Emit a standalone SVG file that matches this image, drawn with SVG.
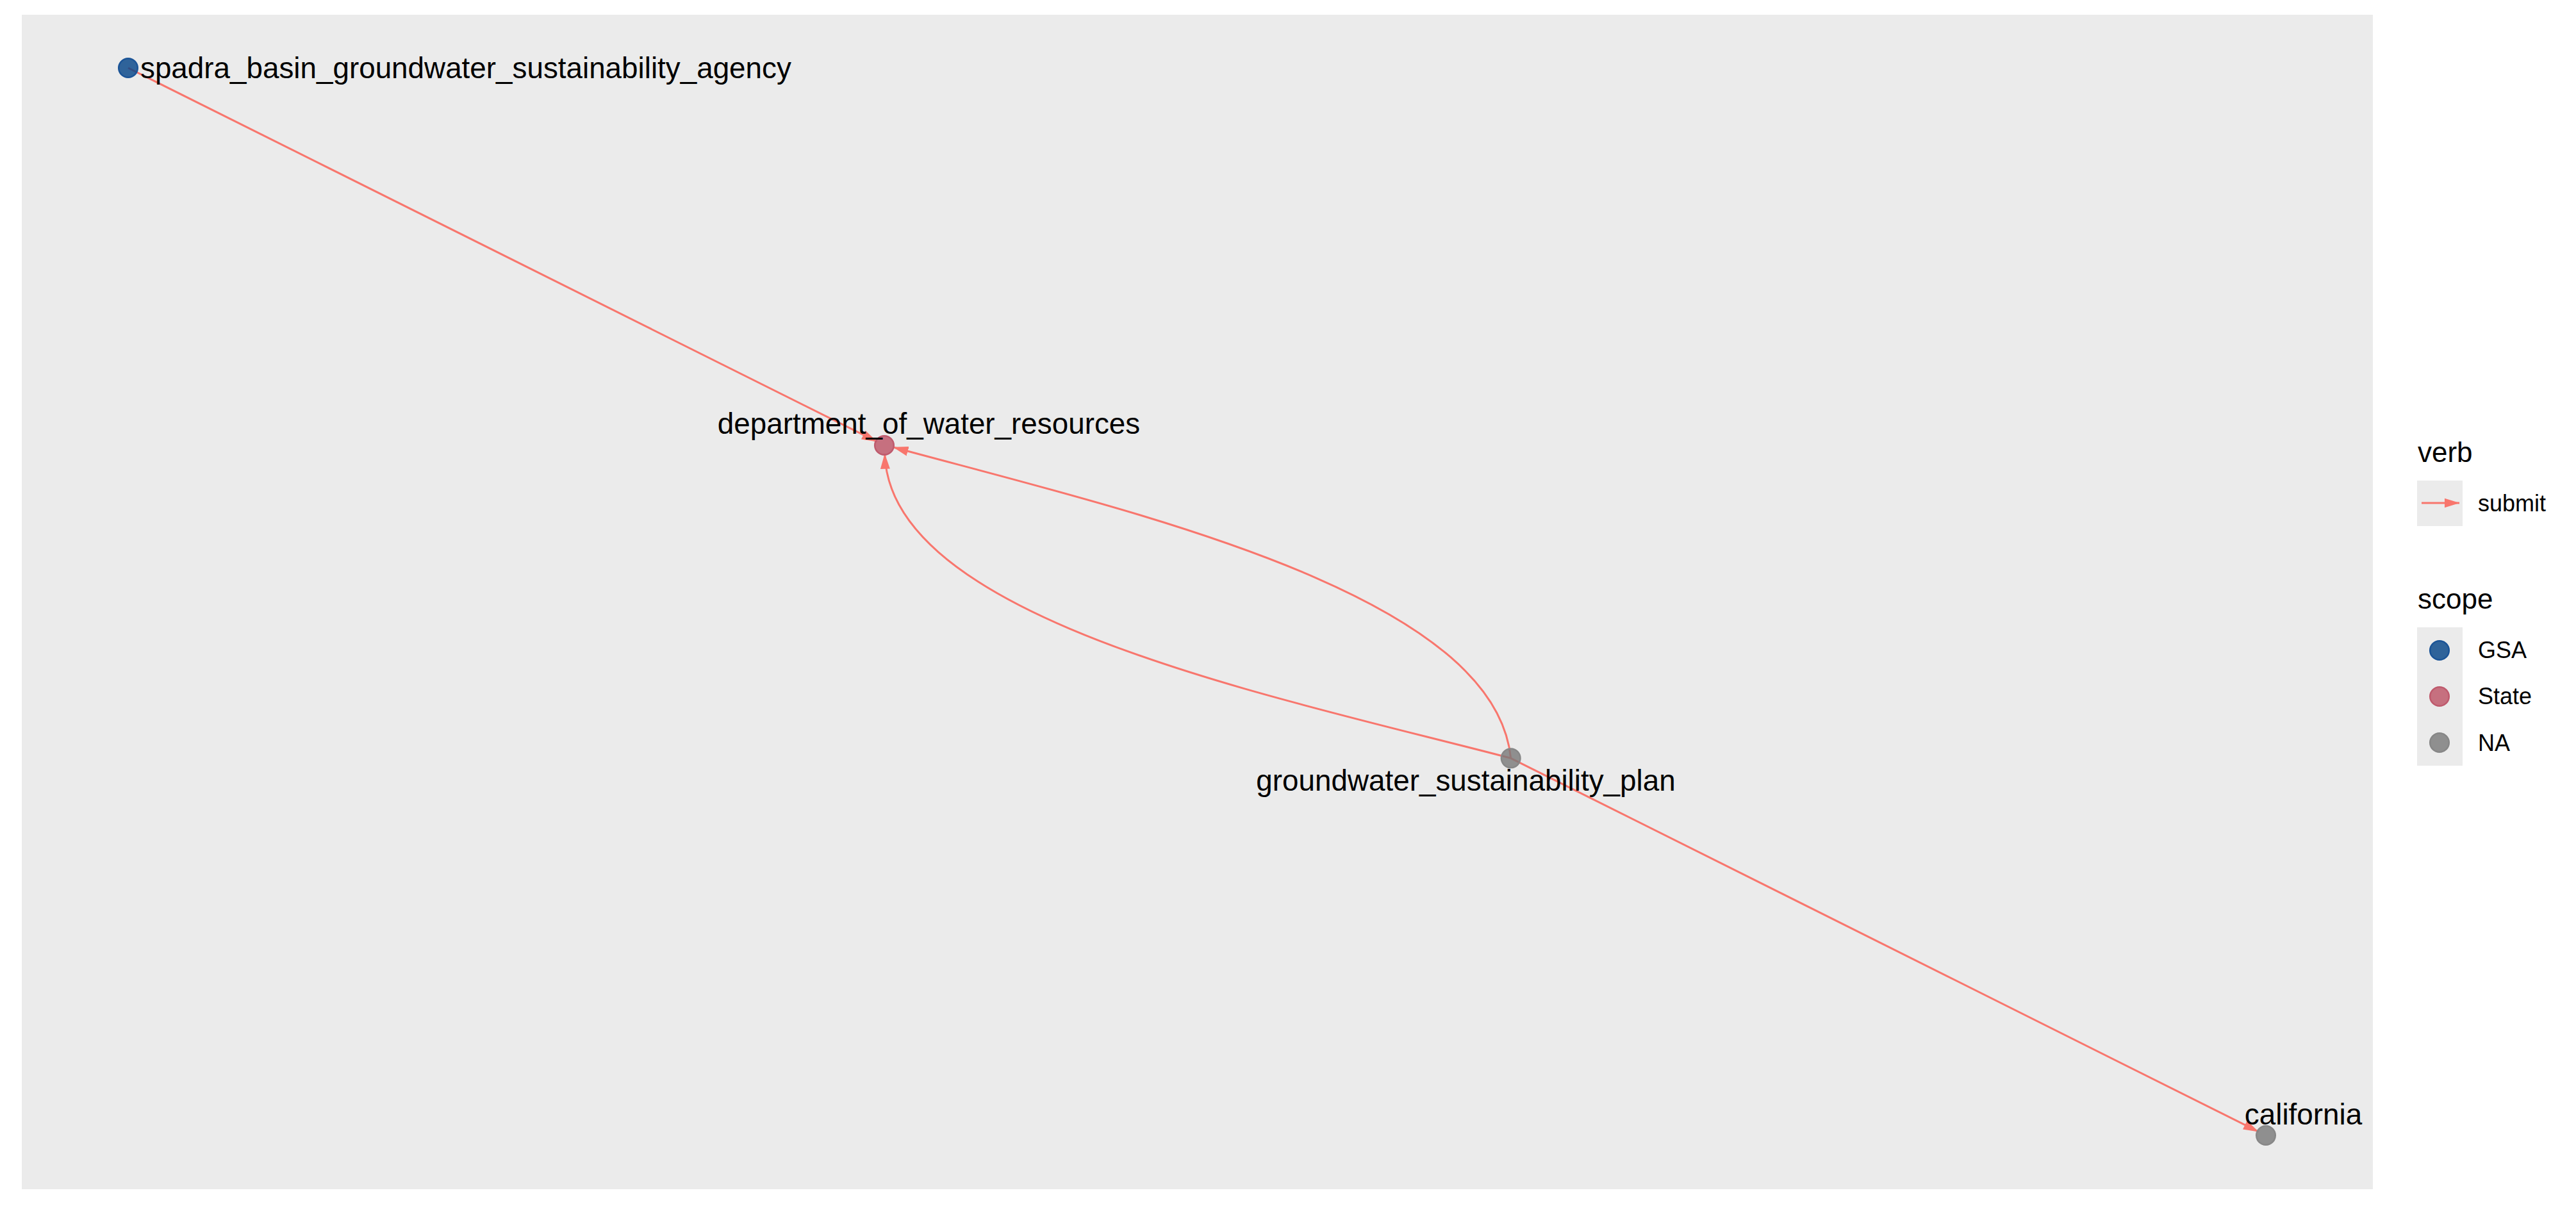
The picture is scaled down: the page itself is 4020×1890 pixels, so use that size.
<svg xmlns="http://www.w3.org/2000/svg" width="4020" height="1890" viewBox="0 0 4020 1890">
<style>
text { font-family: "Liberation Sans", Arial, Helvetica, sans-serif; fill: #000000; }
.lbl { font-size: 45.8px; }
.ttl { font-size: 44px; }
.key { font-size: 36px; }
.edge { fill: none; stroke: #F8766D; stroke-width: 3; marker-end: url(#arr); }
.gsa { fill: #004186; fill-opacity: 0.8; stroke: #1B5497; stroke-width: 2.5; }
.state { fill: #BD5164; fill-opacity: 0.8; stroke: #BF5A6D; stroke-width: 2.5; }
.na { fill: #787878; fill-opacity: 0.8; stroke: #878787; stroke-width: 2.5; }
.keybg { fill: #EBEBEB; }
</style>
<defs>
<marker id="arr" markerUnits="userSpaceOnUse" markerWidth="24" markerHeight="16" viewBox="0 0 24 16" refX="23.5" refY="8" orient="auto">
<path d="M0,0.5 L24,8 L0,15.5 Z" fill="#F8766D"/>
</marker>
</defs>
<rect x="0" y="0" width="4020" height="1890" fill="#FFFFFF"/>
<rect id="panel" x="34" y="23" width="3669" height="1833" fill="#EBEBEB"/>
<g id="connectors">
<path class="edge" d="M200,106 L1368.4,689.2"/>
<path class="edge" d="M2357.7,1183.3 C2331.7,924.6 1760.7,797.6 1394,698"/>
<path class="edge" d="M2357.7,1183.3 C1990.2,1086.8 1388.5,968.3 1380.7,708.3"/>
<path class="edge" d="M2357.7,1183.3 L3524.4,1766.2"/>
</g>
<g id="node-spadra_basin_groundwater_sustainability_agency">
<circle class="gsa" cx="200" cy="106" r="14.8"/>
<text class="lbl" x="219" y="122">spadra_basin_groundwater_sustainability_agency</text>
</g>
<g id="node-department_of_water_resources">
<circle class="state" cx="1380" cy="695" r="14.8"/>
<text class="lbl" x="1449.5" y="677" text-anchor="middle">department_of_water_resources</text>
</g>
<g id="node-groundwater_sustainability_plan">
<circle class="na" cx="2357.7" cy="1183.3" r="14.8"/>
<text class="lbl" x="2287.5" y="1234" text-anchor="middle">groundwater_sustainability_plan</text>
</g>
<g id="node-california">
<circle class="na" cx="3536" cy="1772" r="14.8"/>
<text class="lbl" x="3594.5" y="1755" text-anchor="middle">california</text>
</g>
<g id="legend-verb">
<text class="ttl" x="3773" y="721">verb</text>
<rect class="keybg" x="3772" y="750" width="71" height="71"/>
<line x1="3779" y1="785" x2="3838" y2="785" stroke="#F8766D" stroke-width="3" marker-end="url(#arr)"/>
<text class="key" x="3867" y="798">submit</text>
</g>
<g id="legend-scope">
<text class="ttl" x="3773" y="950">scope</text>
<rect class="keybg" x="3772" y="979" width="71" height="72"/>
<rect class="keybg" x="3772" y="1051" width="71" height="72"/>
<rect class="keybg" x="3772" y="1123" width="71" height="72"/>
<circle class="gsa" cx="3807" cy="1015" r="14.8"/>
<circle class="state" cx="3807" cy="1087" r="14.8"/>
<circle class="na" cx="3807" cy="1159" r="14.8"/>
<text class="key" x="3867" y="1027">GSA</text>
<text class="key" x="3867" y="1099">State</text>
<text class="key" x="3867" y="1172">NA</text>
</g>
</svg>
